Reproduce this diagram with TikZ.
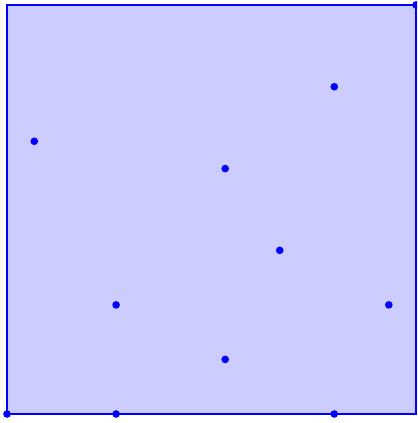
\documentclass[tikz,border=0pt]{standalone}
\begin{document}
\begin{tikzpicture}[x=0.5cm,y=0.5cm,
  pt/.style={circle,fill=blue,inner sep=0pt,minimum size=0.14cm}]
\useasboundingbox (-0.257,-0.33) rectangle (15.035,15.18);
\begin{scope}
\clip (-0.257,-0.33) rectangle (15.035,15.18);
\draw[blue,fill=blue!20,line width=0.8pt] (0,0) rectangle (15,15);
\foreach \n/\p in {a/{(0,0)},b/{(4,0)},c/{(12,0)},d/{(8,2)},e/{(4,4)},f/{(14,4)},g/{(10,6)},h/{(8,9)},i/{(1,10)},j/{(12,12)},k/{(15,15)}}
  \node[pt] (\n) at \p {};
\end{scope}
\end{tikzpicture}
\end{document}
